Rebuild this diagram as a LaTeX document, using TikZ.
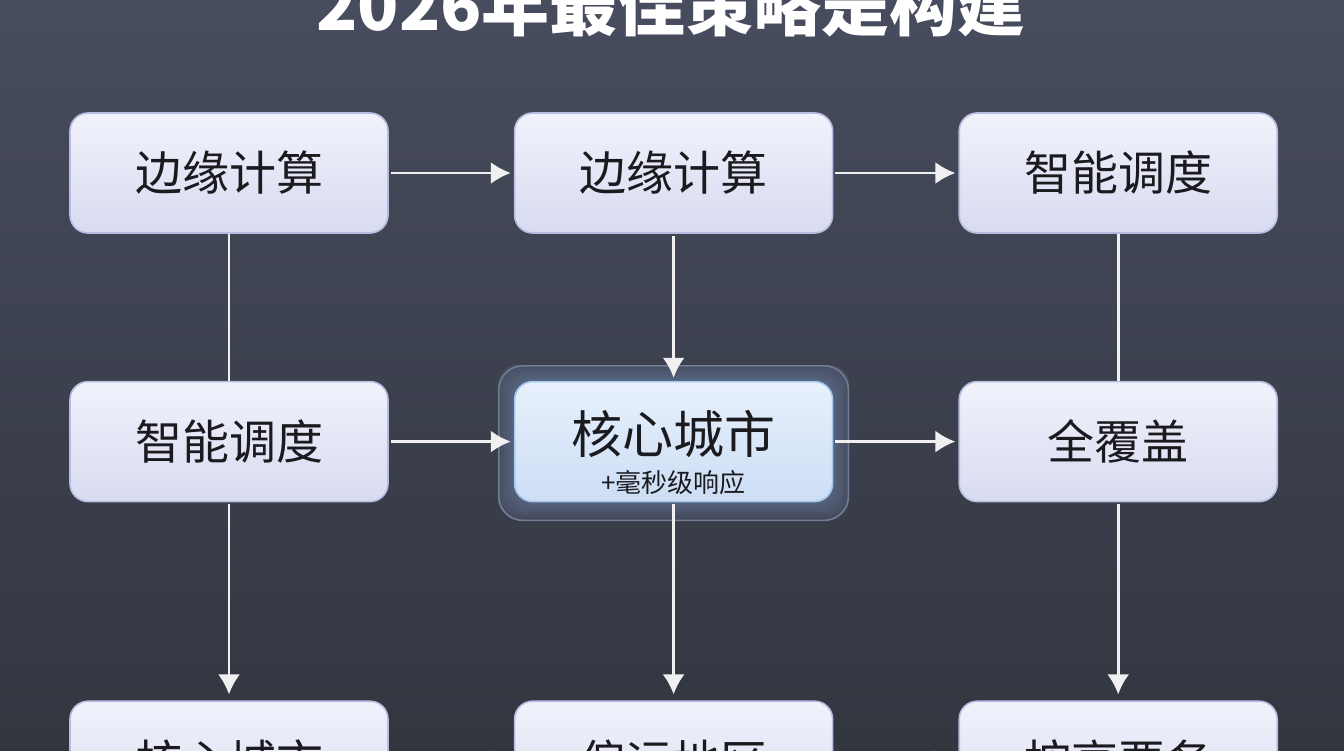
\documentclass[tikz,border=0pt]{standalone}
\usepackage{fontspec}
\setmainfont{Noto Sans CJK SC}
\usetikzlibrary{arrows.meta,positioning,backgrounds}
\definecolor{bgtop}{HTML}{474C5E}
\definecolor{bgbot}{HTML}{32363F}
\definecolor{cardtop}{HTML}{F1F2FB}
\definecolor{cardbot}{HTML}{D8DBF1}
\definecolor{cardedge}{HTML}{B7BDE0}
\definecolor{hubtop}{HTML}{E8F1FC}
\definecolor{hubbot}{HTML}{CCDDF5}
\definecolor{hubedge}{HTML}{A3C6EE}
\definecolor{hubglow}{HTML}{8FB4E6}
\definecolor{framefill}{HTML}{4B5266}
\definecolor{frameedge}{HTML}{727C94}
\definecolor{inktext}{HTML}{1B1B1F}
\tikzset{
  card/.style={rectangle, rounded corners=9pt, minimum width=159pt, minimum height=60pt,
    draw=cardedge, line width=0.8pt, top color=cardtop, bottom color=cardbot,
    text=inktext, font=\fontsize{23.5}{27}\selectfont, inner sep=0pt},
  hub/.style={card, top color=hubtop, bottom color=hubbot, draw=hubedge},
  link/.style={draw=white!94!black, line width=1.3pt},
  flow/.style={link, -{Latex[length=10pt,width=11pt]}, shorten >=1.5pt, shorten <=1pt},
  node distance=73.5pt and 62.5pt
}
\begin{document}
\begin{tikzpicture}[x=0.5pt, y=-0.5pt]
  \useasboundingbox (0,0) rectangle (1344,750);
  \begin{scope}[on background layer]
    \shade[top color=bgtop, bottom color=bgbot] (0,0) rectangle (1344,750);
  \end{scope}
  % title, cut by the top edge as in the source
  \node[anchor=base, text=white, font=\fontsize{34}{40}\selectfont\bfseries] (title) at (671,30) {2026年最佳策略是构建};
  % first row
  \node[card] (edgeA) at (229,173) {边缘计算};
  \node[card, right=of edgeA] (edgeB) {边缘计算};
  \node[card, right=of edgeB] (schedR) {智能调度};
  % second row
  \node[card, below=of edgeA] (schedL) {智能调度};
  \node[hub, below=of edgeB] (hub) {};
  \node[text=inktext, font=\fontsize{25.5}{28}\selectfont, yshift=4pt] (hubtitle) at (hub.center) {核心城市};
  \node[text=inktext, font=\fontsize{13}{15}\selectfont, yshift=-20.5pt] (hubnote) at (hub.center) {+毫秒级响应};
  \node[card, below=of schedR] (cover) {全覆盖};
  % third row, cut by the bottom edge
  \node[card, below=99pt of schedL] (cityC) {核心城市};
  \node[card, below=99pt of hub] (remote) {偏远地区};
  \node[card, below=99pt of cover] (demand) {按高要务};
  % glow round the hub
  \begin{scope}[on background layer]
    \foreach \i in {1,2,...,5} {
      \fill[hubglow, opacity=0.10, rounded corners=10pt]
        ([shift={(-\i*1.6pt,\i*1.6pt)}]hub.north west) rectangle ([shift={(\i*1.6pt,-\i*1.6pt)}]hub.south east);
    }
    \draw[frameedge, line width=0.8pt, fill=framefill, fill opacity=0.45, rounded corners=12pt]
      ([shift={(-7.5pt,7.5pt)}]hub.north west) rectangle ([shift={(7.5pt,-9pt)}]hub.south east);
  \end{scope}
  % connectors
  \draw[flow] (edgeA) -- (edgeB);
  \draw[flow] (edgeB) -- (schedR);
  \draw[flow] (schedL) -- (hub);
  \draw[flow] (hub) -- (cover);
  \draw[flow] (cityC) -- (remote);
  \draw[flow] (remote) -- (demand);
  \draw[link] (edgeA) -- (schedL);
  \draw[flow] (edgeB) -- (hub);
  \draw[link] (schedR) -- (cover);
  \draw[flow, shorten >=3pt] (schedL) -- (cityC);
  \draw[flow, shorten >=3pt] (hub) -- (remote);
  \draw[flow, shorten >=3pt] (cover) -- (demand);
\end{tikzpicture}
\end{document}
